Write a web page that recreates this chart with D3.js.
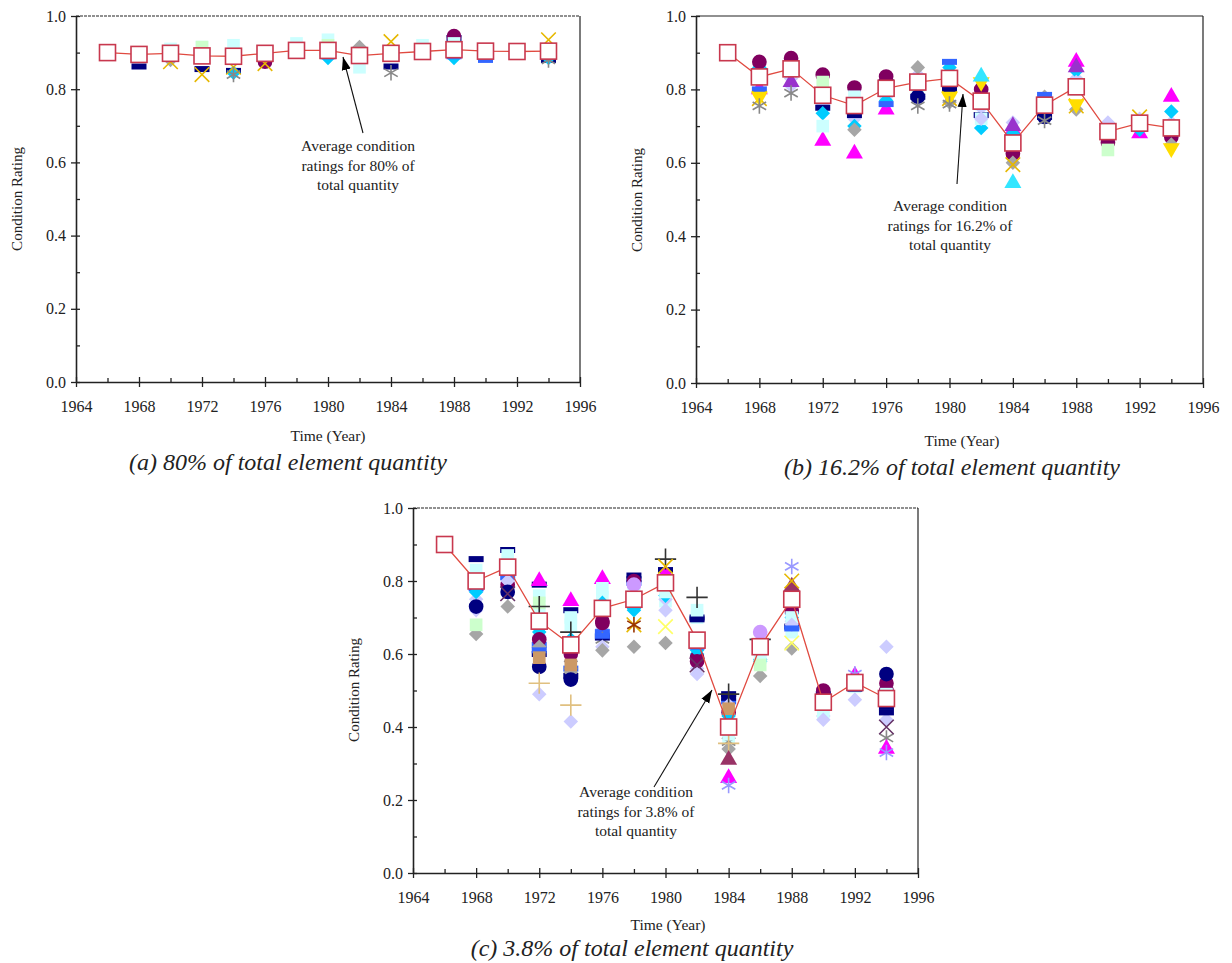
<!DOCTYPE html>
<html>
<head>
<meta charset="utf-8">
<script src="https://cdn.jsdelivr.net/npm/d3@7"></script>
<style>
  body { margin: 0; background: #fff; }
  text { font-family: "Liberation Serif", "Times New Roman", serif; fill: #222; }
</style>
</head>
<body>
<svg id="chart" width="1232" height="963"></svg>
<script>
// survey years (every 2 years)
var years = [1966, 1968, 1970, 1972, 1974, 1976, 1978, 1980, 1982, 1984, 1986, 1988, 1990, 1992, 1994];
var xTicks = [1964, 1968, 1972, 1976, 1980, 1984, 1988, 1992, 1996];
var yTicks = [0, 0.2, 0.4, 0.6, 0.8, 1.0];

// average condition ratings (red line with open squares)
var avgA = [0.90, 0.895, 0.898, 0.891, 0.890, 0.898, 0.906, 0.906, 0.892, 0.898, 0.903, 0.908, 0.904, 0.903, 0.904];
var avgB = [0.90, 0.834, 0.856, 0.784, 0.756, 0.803, 0.820, 0.830, 0.768, 0.654, 0.757, 0.807, 0.685, 0.708, 0.695];
var avgC = [0.90, 0.80, 0.838, 0.69, 0.625, 0.725, 0.75, 0.795, 0.638, 0.40, 0.62, 0.75, 0.468, 0.522, 0.478];

// element types (marker shape / colour), shared by the three panels
var markerShapes = ["dash", "triangle", "diamond", "circle", "square", "diamond", "diamond", "circle",
    "square", "plus", "plus", "dash", "triangle", "cross", "cross", "asterisk", "cross", "circle",
    "asterisk", "square", "triangle", "triangle", "triangleDown", "asterisk"];
var markerColors = ["#000080", "#ff00ff", "#00ccff", "#800060", "#ccffff", "#ccccff", "#a6a6a6", "#000080",
    "#ccffcc", "#e0c080", "#333333", "#3366ff", "#993366", "#e6b800", "#ffff66", "#9999ff", "#663366", "#cc99ff",
    "#993300", "#cc9966", "#33e6ff", "#9933cc", "#ffdd00", "#888888"];

// individual element ratings, panel (a)
var typesA = [0, 2, 3, 4, 6, 8, 11, 13, 23];
var ratingsA = [
    [null, .862, null, .855, .85, null, null, null, null, .862, null, .94, null, null, .88],
    [null, null, null, null, .845, null, null, .885, null, null, null, .885, null, null, .885],
    [null, null, null, null, null, .875, null, null, null, null, null, .945, null, null, null],
    [null, null, .91, .915, .92, null, .925, .935, .86, null, .92, .925, null, null, null],
    [null, null, .88, null, null, null, null, null, .915, null, null, null, null, null, null],
    [null, null, null, .915, null, null, null, .92, null, null, null, null, null, null, null],
    [null, null, null, null, null, null, null, .89, null, null, null, .89, .88, null, null],
    [null, null, .875, .84, .86, .87, null, null, null, .93, null, null, null, null, .935],
    [null, null, null, null, .84, null, null, null, null, .845, null, null, null, null, .88]
];

// individual element ratings, panel (b)
var typesB = [4, 5, 0, 1, 2, 3, 4, 5, 6, 7, 8, 11, 21, 13, 22, 23, 20];
var ratingsB = [
    [null, .845, .85, .77, .74, .79, .81, .82, .76, .665, .765, .80, .68, .70, .69],
    [null, .82, .83, .76, .72, .78, .84, .845, .75, .67, .77, .83, .70, .72, .71],
    [null, .85, .87, .75, .73, .82, .78, .80, .73, null, .725, null, null, null, .70],
    [null, .80, null, .66, .625, .745, null, null, null, .69, null, .875, null, .68, .78],
    [null, .86, null, .735, .70, .77, null, .86, .695, .68, null, .85, .665, .69, .74],
    [null, .875, .885, .84, .805, .835, null, null, .80, .625, null, null, .655, null, .67],
    [null, null, null, .70, .78, null, null, null, .72, null, null, null, null, null, null],
    [null, null, .81, null, null, null, null, null, .72, .71, null, .82, .71, null, null],
    [null, null, null, null, .69, null, .86, .765, null, .60, .78, .745, null, null, .65],
    [null, null, null, null, null, null, .78, null, null, null, .725, null, null, null, null],
    [null, null, null, .82, null, null, null, null, null, null, null, null, .635, null, null],
    [null, .80, null, null, null, .76, null, .875, null, null, .785, null, null, null, null],
    [null, null, .82, null, null, null, null, null, null, .70, null, .86, null, null, null],
    [null, .775, null, null, null, null, null, .775, null, .595, null, .755, null, .725, null],
    [null, .78, null, null, null, null, null, .78, .82, null, null, .76, null, null, .64],
    [null, .755, .79, null, null, null, .755, .76, null, null, .715, null, null, null, null],
    [null, null, null, null, null, null, null, null, .835, .545, null, null, null, null, null]
];

// individual element ratings, panel (c)
var typesC = [4, 5, 2, 11, 0, 23, 3, 0, 1, 2, 3, 4, 5, 6, 7, 8, 9, 10, 11, 12, 13, 14, 15, 16, 17, 18, 19];
var ratingsC = [
    [null, .80, .845, .72, .68, .755, .78, .745, .70, .37, .60, .66, .455, .51, .46],
    [null, .75, .78, .65, .58, .67, .74, .75, .56, .42, null, .69, .43, null, .42],
    [null, .785, .815, .66, .62, .74, .72, .79, .60, .44, .58, .71, null, .53, .47],
    [null, .78, .81, .625, .56, .66, .795, null, .64, .47, null, .74, null, null, .47],
    [null, null, .83, .60, .54, null, .805, .83, .70, .49, null, .675, null, null, .455],
    [null, null, null, .63, .57, .64, null, null, null, .36, null, null, null, null, .37],
    [null, null, .79, null, null, .685, null, null, .59, .44, null, .735, .49, null, .50],
    [null, .86, .885, .79, .72, .645, .815, null, .695, .48, null, null, .49, .505, .44],
    [null, null, null, .80, .745, .805, null, .82, null, .26, null, null, null, .54, .34],
    [null, .77, null, .67, .64, .73, .725, .76, .61, .43, .585, .70, null, null, .50],
    [null, null, null, .64, .60, .69, .80, null, .58, null, null, .72, .50, null, .52],
    [null, .83, .87, .76, .70, .78, .77, .77, .72, .38, .59, .70, .44, null, .49],
    [null, .72, .80, .49, .415, .62, null, .72, .545, .46, null, .68, .42, .475, .62],
    [null, .655, .73, .62, .55, .61, .62, .63, null, .34, .54, .615, null, null, null],
    [null, .73, .77, .565, .53, null, null, null, null, null, null, null, null, null, .545],
    [null, .68, null, .74, null, null, null, null, null, null, .57, null, null, null, null],
    [null, null, null, .52, .46, null, null, null, null, .355, null, null, null, null, null],
    [null, null, null, .73, .66, null, null, .86, .755, .49, .64, null, null, null, null],
    [null, null, null, .61, null, .65, null, null, .62, null, null, .67, null, null, null],
    [null, null, null, null, null, null, null, null, null, .31, null, .785, null, null, null],
    [null, null, null, null, null, null, .68, .84, null, null, null, .80, null, null, null],
    [null, null, null, null, null, null, null, .675, null, null, null, .63, null, null, null],
    [null, null, null, null, null, null, null, null, null, .24, null, .84, null, .545, .33],
    [null, null, .765, null, null, null, null, null, .57, null, null, null, null, null, .40],
    [null, null, null, null, null, null, .79, null, null, null, .66, null, null, null, null],
    [null, null, null, null, null, null, .68, null, null, null, null, null, null, null, null],
    [null, null, null, .59, .57, null, null, null, null, .45, null, null, null, null, null]
];

var svg = d3.select("#chart");
var serif = "'Liberation Serif', 'Times New Roman', serif";

svg.append("defs").append("marker")
    .attr("id", "arrow")
    .attr("viewBox", "0 0 10 10")
    .attr("refX", 10).attr("refY", 5)
    .attr("markerWidth", 13).attr("markerHeight", 13)
    .attr("markerUnits", "userSpaceOnUse")
    .attr("orient", "auto")
    .append("path").attr("d", "M0,1.5 L10,5 L0,8.5 Z").attr("fill", "#000");

function markerPath(shape) {
    if (shape == "dash") return "M-7.5,-3 H7.5 V3 H-7.5 Z";
    if (shape == "triangle") return d3.symbol(d3.symbolTriangle, 125)();
    if (shape == "triangleDown") return d3.symbol(d3.symbolTriangle, 125)();
    if (shape == "circle") return d3.symbol(d3.symbolCircle, 170)();
    if (shape == "square") return d3.symbol(d3.symbolSquare, 160)();
    if (shape == "diamond") return d3.symbol(d3.symbolDiamond2, 135)();
    if (shape == "plus") return d3.symbol(d3.symbolPlus, 150)();
    if (shape == "cross") return d3.symbol(d3.symbolTimes, 140)();
    return d3.symbol(d3.symbolAsterisk, 170)();
}
var stroked = {plus: 1, cross: 1, asterisk: 1};

function drawPanel(cfg) {
    var g = svg.append("g").attr("transform", "translate(" + cfg.left + "," + cfg.top + ")");
    var x = d3.scaleLinear().domain([1964, 1996]).range([0, cfg.w]);
    var y = d3.scaleLinear().domain([0, 1]).range([cfg.h, 0]);

    // top and right frame
    g.append("line").attr("x1", 0).attr("x2", cfg.w).attr("y1", 0).attr("y2", 0)
        .style("stroke", "#222").style("stroke-width", 1.2)
        .style("stroke-dasharray", cfg.dashTop ? "3,1" : null);
    g.append("line").attr("x1", cfg.w).attr("x2", cfg.w).attr("y1", 0).attr("y2", cfg.h)
        .style("stroke", "#222").style("stroke-width", 1.2);

    // minor ticks (inside only)
    var my = g.append("g")
        .call(d3.axisLeft(y).tickValues([0.1, 0.3, 0.5, 0.7, 0.9]).tickSize(-4).tickFormat(""));
    var mx = g.append("g").attr("transform", "translate(0," + cfg.h + ")")
        .call(d3.axisBottom(x).tickValues([1966, 1970, 1974, 1978, 1982, 1986, 1990, 1994]).tickSize(-4).tickFormat(""));
    my.select(".domain").remove();
    mx.select(".domain").remove();

    // major axes, ticks crossing the axis line
    var ya = g.append("g")
        .call(d3.axisLeft(y).tickValues(yTicks).tickFormat(d3.format(".1f")).tickSize(5).tickSizeOuter(0).tickPadding(5));
    ya.selectAll(".tick line").attr("x1", 4);
    var xa = g.append("g").attr("transform", "translate(0," + cfg.h + ")")
        .call(d3.axisBottom(x).tickValues(xTicks).tickFormat(d3.format("d")).tickSize(5).tickSizeOuter(0).tickPadding(14));
    xa.selectAll(".tick line").attr("y1", -5);
    [ya, xa, my, mx].forEach(function (a) {
        a.attr("font-family", serif).attr("font-size", 16);
        a.selectAll("line").style("stroke", "#222").style("stroke-width", 1.3);
        a.selectAll(".domain").style("stroke", "#222").style("stroke-width", 1.6);
        a.selectAll("text").style("fill", "#222");
    });

    // individual elements
    cfg.types.forEach(function (t, i) {
        var pts = years.map(function (yr, k) { return {yr: yr, v: cfg.ratings[i][k]}; })
            .filter(function (p) { return p.v != null; });
        var shape = markerShapes[t];
        g.selectAll(null).data(pts).enter().append("path")
            .attr("d", markerPath(shape))
            .attr("transform", function (p) {
                return "translate(" + x(p.yr) + "," + y(p.v) + ")" + (shape == "triangleDown" ? " rotate(180)" : "");
            })
            .style("fill", stroked[shape] ? "none" : markerColors[t])
            .style("stroke", stroked[shape] ? markerColors[t] : "none")
            .style("stroke-width", 1.6);
    });

    // average line + open squares
    var line = d3.line().x(function (d, k) { return x(years[k]); }).y(function (d) { return y(d); });
    g.append("path").datum(cfg.avg).attr("d", line)
        .style("fill", "none").style("stroke", "#e04a40").style("stroke-width", 1.3);
    g.selectAll(null).data(cfg.avg).enter().append("rect")
        .attr("x", function (d, k) { return x(years[k]) - 8; })
        .attr("y", function (d) { return y(d) - 8; })
        .attr("width", 16).attr("height", 16)
        .style("fill", "#fff").style("stroke", "#c8384e").style("stroke-width", 1.6);

    // labels
    svg.append("text").attr("transform", "translate(" + cfg.ylab[0] + "," + cfg.ylab[1] + ") rotate(-90)")
        .attr("text-anchor", "middle").attr("font-size", 15).text("Condition Rating");
    svg.append("text").attr("x", cfg.xlab[0]).attr("y", cfg.xlab[1])
        .attr("text-anchor", "middle").attr("font-size", 15.5).text("Time (Year)");
    svg.append("text").attr("x", cfg.cap[0]).attr("y", cfg.cap[1])
        .attr("text-anchor", "middle").attr("font-size", 24).style("font-style", "italic").text(cfg.caption);

    // annotation
    svg.append("line").attr("x1", cfg.arrow[0]).attr("y1", cfg.arrow[1]).attr("x2", cfg.arrow[2]).attr("y2", cfg.arrow[3])
        .style("stroke", "#111").style("stroke-width", 1.1).attr("marker-end", "url(#arrow)");
    cfg.note.forEach(function (s, k) {
        svg.append("text").attr("x", cfg.noteXY[0]).attr("y", cfg.noteXY[1] + k * 19.5)
            .attr("text-anchor", "middle").attr("font-size", 15.5).text(s);
    });
}

drawPanel({left: 76, top: 16, w: 504, h: 366, dashTop: true, types: typesA, ratings: ratingsA, avg: avgA,
    ylab: [22, 199], xlab: [328, 441], cap: [288, 470], caption: "(a) 80% of total element quantity",
    arrow: [363, 133, 343, 57], noteXY: [358, 151],
    note: ["Average condition", "ratings for 80% of", "total quantity"]});

drawPanel({left: 696, top: 16, w: 507, h: 367, dashTop: false, types: typesB, ratings: ratingsB, avg: avgB,
    ylab: [642, 200], xlab: [962, 446], cap: [952, 475], caption: "(b) 16.2% of total element quantity",
    arrow: [957, 184, 963, 94], noteXY: [950, 211],
    note: ["Average condition", "ratings for 16.2% of", "total quantity"]});

drawPanel({left: 413, top: 508, w: 505, h: 365, dashTop: true, types: typesC, ratings: ratingsC, avg: avgC,
    ylab: [359, 690], xlab: [668, 930], cap: [632, 956], caption: "(c) 3.8% of total element quantity",
    arrow: [654, 787, 712, 690], noteXY: [636, 797],
    note: ["Average condition", "ratings for 3.8% of", "total quantity"]});
</script>
</body>
</html>
